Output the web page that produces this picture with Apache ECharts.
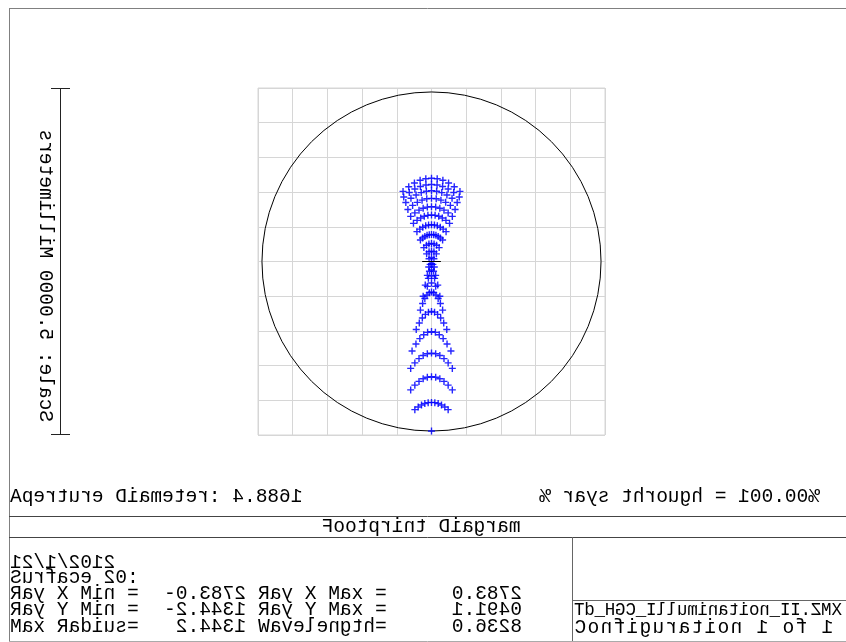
<!DOCTYPE html>
<html>
<head>
<meta charset="utf-8">
<script src="https://cdn.jsdelivr.net/npm/echarts@6/dist/echarts.min.js"></script>
<style>
html,body{margin:0;padding:0;background:#fff;}
#main{width:846px;height:642px;}
</style>
</head>
<body>
<div id="main"></div>
<script>
// footprint rays (mm)
var fanRows = [
  [-0.41,1.01],[-0.328,1.078],[-0.246,1.132],[-0.164,1.17],[-0.082,1.192],[0,1.2],[0.082,1.192],[0.164,1.17],[0.246,1.132],[0.328,1.078],[0.41,1.01],
  [-0.40,0.93],[-0.32,0.995],[-0.24,1.045],[-0.16,1.081],[-0.08,1.103],[0,1.11],[0.08,1.103],[0.16,1.081],[0.24,1.045],[0.32,0.995],[0.40,0.93],
  [-0.37,0.85],[-0.296,0.911],[-0.222,0.959],[-0.148,0.993],[-0.074,1.013],[0,1.02],[0.074,1.013],[0.148,0.993],[0.222,0.959],[0.296,0.911],[0.37,0.85],
  [-0.34,0.75],[-0.272,0.808],[-0.204,0.852],[-0.136,0.884],[-0.068,0.904],[0,0.91],[0.068,0.904],[0.136,0.884],[0.204,0.852],[0.272,0.808],[0.34,0.75],
  [-0.30,0.65],[-0.24,0.70],[-0.18,0.74],[-0.12,0.768],[-0.06,0.784],[0,0.79],[0.06,0.784],[0.12,0.768],[0.18,0.74],[0.24,0.70],[0.30,0.65],
  [-0.26,0.55],[-0.208,0.593],[-0.156,0.627],[-0.104,0.651],[-0.052,0.665],[0,0.67],[0.052,0.665],[0.104,0.651],[0.156,0.627],[0.208,0.593],[0.26,0.55],
  [-0.21,0.43],[-0.168,0.466],[-0.126,0.494],[-0.084,0.514],[-0.042,0.526],[0,0.53],[0.042,0.526],[0.084,0.514],[0.126,0.494],[0.168,0.466],[0.21,0.43],
  [-0.16,0.31],[-0.128,0.339],[-0.096,0.361],[-0.064,0.377],[-0.032,0.387],[0,0.39],[0.032,0.387],[0.064,0.377],[0.096,0.361],[0.128,0.339],[0.16,0.31],
  [-0.11,0.20],[-0.073,0.233],[-0.037,0.253],[0,0.26],[0.037,0.253],[0.073,0.233],[0.11,0.20],
  [-0.07,0.11],[-0.035,0.14],[0,0.15],[0.035,0.14],[0.07,0.11],
  [-0.035,0.04],[0,0.06],[0.035,0.04]
];
var waistRows = [
  [-0.04,-0.08],[-0.02,-0.042],[0,-0.03],[0.02,-0.042],[0.04,-0.08],
  [-0.06,-0.20],[-0.03,-0.14],[0,-0.12],[0.03,-0.14],[0.06,-0.20],
  [-0.09,-0.34],[-0.045,-0.243],[0,-0.21],[0.045,-0.243],[0.09,-0.34],
  [-0.12,-0.50],[-0.06,-0.358],[0,-0.31],[0.06,-0.358],[0.12,-0.50]
];
var chevronRows = [
  [-0.16,-0.70],[-0.128,-0.606],[-0.096,-0.534],[-0.064,-0.482],[-0.032,-0.45],[0,-0.44],[0.032,-0.45],[0.064,-0.482],[0.096,-0.534],[0.128,-0.606],[0.16,-0.70],
  [-0.22,-0.98],[-0.176,-0.886],[-0.132,-0.814],[-0.088,-0.762],[-0.044,-0.73],[0,-0.72],[0.044,-0.73],[0.088,-0.762],[0.132,-0.814],[0.176,-0.886],[0.22,-0.98],
  [-0.28,-1.29],[-0.224,-1.189],[-0.168,-1.111],[-0.112,-1.055],[-0.056,-1.021],[0,-1.01],[0.056,-1.021],[0.112,-1.055],[0.168,-1.111],[0.224,-1.189],[0.28,-1.29],
  [-0.30,-1.54],[-0.24,-1.461],[-0.18,-1.399],[-0.12,-1.355],[-0.06,-1.329],[0,-1.32],[0.06,-1.329],[0.12,-1.355],[0.18,-1.399],[0.24,-1.461],[0.30,-1.54],
  [-0.30,-1.85],[-0.24,-1.782],[-0.18,-1.728],[-0.12,-1.69],[-0.06,-1.668],[0,-1.66],[0.06,-1.668],[0.12,-1.69],[0.18,-1.728],[0.24,-1.782],[0.30,-1.85],
  [-0.24,-2.135],[-0.192,-2.097],[-0.144,-2.068],[-0.096,-2.047],[-0.048,-2.034],[0,-2.03],[0.048,-2.034],[0.096,-2.047],[0.144,-2.068],[0.192,-2.097],[0.24,-2.135],
  [0,-2.443]
];
var apertureCircle = [[0, 0, 2.443]];
var chiefMark = [[-0.135, 0], [0.135, 0]];

// text of the plot
var headLeft = 'Aperture Diameter: 4.8861';
var headRight = '% rays through = 100.00%';
var plotTitle = 'Footprint Diagram';
var scaleText = 'Scale: 5.0000 Millimeters';
var infoLines = ['12/1/2012', 'Surface 20:'];
var minLabels = ['Ray X Min =', 'Ray Y Min =', 'Max Radius='];
var minValues = ['-0.3872', '-2.4431', '2.4431'];
var maxLabels = ['Ray X Max =', 'Ray Y Max =', 'Wavelength='];
var maxValues = ['0.3872', '1.1940', '0.6328'];
var fileLines = ['Td_HGC_Illumination_II.ZMX', 'Configuration 1 of 1'];

var CW = 11.7;   // character cell width
var FONT = '19.5px "Liberation Mono", "DejaVu Sans Mono", monospace';
var chart = echarts.init(document.getElementById('main'));

var g = [];
// every glyph is mirrored in its own cell, the reading order stays
function glyphs(str, x0, y, cw, font) {
  cw = cw || CW;
  for (var i = 0; i < str.length; i++) {
    var ch = str.charAt(i);
    if (ch == ' ') continue;
    g.push({
      type: 'text', x: x0 + i * cw + cw / 2, y: y, scaleX: -1,
      style: { text: ch, font: font || FONT, fill: '#000', align: 'center', verticalAlign: 'middle',
               textAlign: 'center', textVerticalAlign: 'middle' }
    });
  }
}
function glyphsRight(str, x1, y) { glyphs(str, x1 - str.length * CW, y); }
function glyphsUp(str, x, y0) {
  for (var i = 0; i < str.length; i++) {
    var ch = str.charAt(i);
    if (ch == ' ') continue;
    g.push({
      type: 'text', x: x, y: y0 - i * CW - CW / 2, rotation: Math.PI / 2, scaleY: -1,
      style: { text: ch, font: FONT, fill: '#000', align: 'center', verticalAlign: 'middle',
               textAlign: 'center', textVerticalAlign: 'middle' }
    });
  }
}
function seg(x1, y1, x2, y2, c) {
  g.push({ type: 'line', shape: { x1: x1, y1: y1, x2: x2, y2: y2 },
           style: { stroke: c || '#555', lineWidth: 1 } });
}

// frame and table
seg(9, 8.5, 846, 8.5, '#808080');
seg(9.5, 8, 9.5, 642, '#808080');
seg(9, 516.5, 846, 516.5, '#444');
seg(9, 537.5, 846, 537.5, '#444');
seg(572.5, 537, 572.5, 642, '#666');
seg(572, 600.5, 846, 600.5, '#666');
seg(9, 641.5, 846, 641.5, '#aaa');
// scale bar
seg(60.5, 88, 60.5, 435, '#222');
seg(51, 88.5, 70, 88.5, '#222');
seg(51, 434.5, 70, 434.5, '#222');
glyphsUp(scaleText, 45, 422);

glyphs(headLeft, 10, 497);
glyphsRight(headRight, 820, 497);
glyphs(plotTitle, 421 - plotTitle.length * CW / 2, 527);
glyphs(infoLines[0], 10, 563);
glyphs(infoLines[1], 10, 578);
var rowY = [594, 610, 627];
for (var i = 0; i < 3; i++) {
  glyphs(minLabels[i], 10, rowY[i]);
  glyphsRight(minValues[i], 246, rowY[i]);
  glyphs(maxLabels[i], 258, rowY[i]);
  glyphsRight(maxValues[i], 522, rowY[i]);
}
glyphs(fileLines[0], 574, 610, 10.3, '17.5px "Liberation Mono", "DejaVu Sans Mono", monospace');
glyphs(fileLines[1], 574, 628, 13);

var gridLine = { show: true, lineStyle: { color: '#d6d6d6', width: 1 } };
var plusPath = 'path://M4,0H6V4H10V6H6V10H4V6H0V4H4Z';

var option = {
  animation: false,
  grid: { left: 258, top: 88, width: 347, height: 347, show: true, borderColor: '#d6d6d6', borderWidth: 1 },
  xAxis: { type: 'value', min: -2.5, max: 2.5, interval: 0.5,
           axisLine: { show: false }, axisTick: { show: false }, axisLabel: { show: false }, splitLine: gridLine },
  yAxis: { type: 'value', min: -2.5, max: 2.5, interval: 0.5,
           axisLine: { show: false }, axisTick: { show: false }, axisLabel: { show: false }, splitLine: gridLine },
  graphic: g,
  series: [
    {
      type: 'custom',
      data: apertureCircle,
      renderItem: function (params, api) {
        var c = api.coord([api.value(0), api.value(1)]);
        var r = api.size([api.value(2), 0])[0];
        return { type: 'circle', shape: { cx: c[0], cy: c[1], r: r },
                 style: { fill: 'none', stroke: '#000', lineWidth: 1 } };
      },
      silent: true, z: 3
    },
    {
      type: 'scatter',
      data: fanRows.concat(waistRows, chevronRows),
      symbol: plusPath, symbolSize: 7,
      itemStyle: { color: '#0000ff', opacity: 0.85 },
      silent: true, z: 4
    },
    {
      type: 'line', data: chiefMark, symbol: 'none',
      lineStyle: { color: '#000', width: 1.2 }, silent: true, z: 5
    }
  ]
};
chart.setOption(option);
</script>
</body>
</html>
